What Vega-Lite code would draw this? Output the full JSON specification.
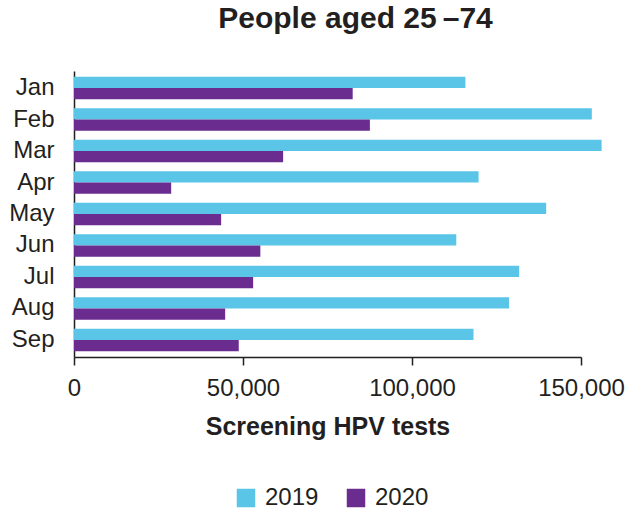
{
  "$schema": "https://vega.github.io/schema/vega-lite/v6.json",
  "width": 507,
  "height": 286,
  "autosize": {"type": "none"},
  "padding": {"left": 74, "top": 71, "right": 45, "bottom": 152},
  "background": "white",
  "config": {
    "font": "Liberation Sans",
    "view": {"stroke": null},
    "axis": {"domainColor": "#231f20", "tickColor": "#231f20", "labelColor": "#231f20", "titleColor": "#231f20", "grid": false}
  },
  "title": {
    "text": "People aged 25\u2009–74",
    "fontSize": 30,
    "fontWeight": "bold",
    "color": "#231f20",
    "anchor": "middle",
    "dx": 28,
    "offset": 37
  },
  "data": {
    "values": [
      {"month": "Jan", "year": "2019", "tests": 115800},
      {"month": "Jan", "year": "2020", "tests": 82450},
      {"month": "Feb", "year": "2019", "tests": 153200},
      {"month": "Feb", "year": "2020", "tests": 87540},
      {"month": "Mar", "year": "2019", "tests": 156100},
      {"month": "Mar", "year": "2020", "tests": 61870},
      {"month": "Apr", "year": "2019", "tests": 119700},
      {"month": "Apr", "year": "2020", "tests": 28750},
      {"month": "May", "year": "2019", "tests": 139700},
      {"month": "May", "year": "2020", "tests": 43530},
      {"month": "Jun", "year": "2019", "tests": 113100},
      {"month": "Jun", "year": "2020", "tests": 55130},
      {"month": "Jul", "year": "2019", "tests": 131700},
      {"month": "Jul", "year": "2020", "tests": 53000},
      {"month": "Aug", "year": "2019", "tests": 128700},
      {"month": "Aug", "year": "2020", "tests": 44720},
      {"month": "Sep", "year": "2019", "tests": 118200},
      {"month": "Sep", "year": "2020", "tests": 48740}
    ]
  },
  "mark": {"type": "bar"},
  "encoding": {
    "y": {
      "field": "month",
      "type": "nominal",
      "sort": ["Jan", "Feb", "Mar", "Apr", "May", "Jun", "Jul", "Aug", "Sep"],
      "scale": {"paddingInner": 0.29, "paddingOuter": 0.185},
      "axis": {"title": null, "ticks": false, "labelFontSize": 24, "labelPadding": 20, "domainWidth": 1.5}
    },
    "yOffset": {"field": "year", "type": "nominal"},
    "x": {
      "field": "tests",
      "type": "quantitative",
      "scale": {"domain": [0, 150000], "nice": false},
      "axis": {
        "title": "Screening HPV tests",
        "titleFontSize": 25,
        "titleFontWeight": "bold",
        "titlePadding": 14,
        "labelFontSize": 24,
        "labelPadding": 11,
        "tickSize": 8,
        "values": [0, 50000, 100000, 150000],
        "format": ",.0f",
        "labelOverlap": false,
        "domainWidth": 1.5,
        "tickWidth": 1.5,
        "labelFlush": false
      }
    },
    "color": {
      "field": "year",
      "type": "nominal",
      "scale": {"domain": ["2019", "2020"], "range": ["#5bc5e8", "#6a2c8e"]},
      "legend": {
        "title": null,
        "orient": "none",
        "direction": "horizontal",
        "legendX": 160,
        "legendY": 415,
        "symbolType": "square",
        "symbolSize": 342,
        "symbolStrokeWidth": 0,
        "labelFontSize": 24,
        "labelColor": "#231f20",
        "columnPadding": 25,
        "labelOffset": 7
      }
    }
  }
}
